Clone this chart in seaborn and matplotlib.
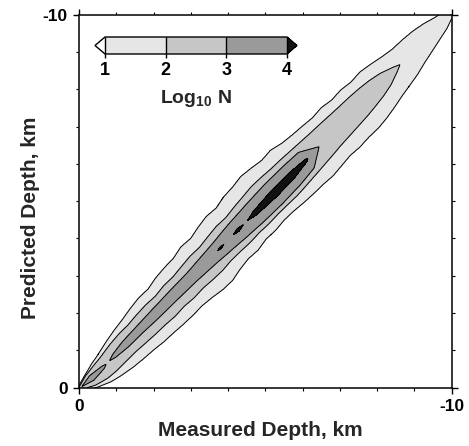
import numpy as np
import matplotlib
matplotlib.use("Agg")
import matplotlib.pyplot as plt
import seaborn as sns
from matplotlib.ticker import MultipleLocator

# ---------------- data ----------------
# stations along the 1:1 line (km depth) for the two innermost levels
S_IN = [0.0, 0.3, 0.6, 0.72, 0.9, 1.2, 1.6, 2.0, 2.5, 3.0, 3.5, 3.77, 4.0, 4.25,
        4.45, 4.7, 5.2, 5.7, 6.1, 6.45, 7.0, 7.8, 8.6, 9.2, 10.0]
# ridge centre offset (measured - predicted, km)
CENTER = [0.04, 0.08, 0.1, 0.1, 0.09, 0.08, 0.07, 0.07, 0.06, 0.06, 0.05, 0.05, 0.04,
          0.04, 0.04, 0.04, 0.03, 0.02, 0.0, -0.02, -0.03, -0.05, -0.05, -0.06, -0.08]
# half-widths (km) at which log10 N crosses 4 and 3 (negative = level not reached)
W_L4 = [-0.3, -0.3, -0.3, -0.3, -0.3, -0.3, -0.28, -0.25, -0.22, -0.18, -0.1, 0.04, -0.05,
        0.06, -0.02, 0.09, 0.15, 0.14, 0.05, -0.35, -0.45, -0.5, -0.5, -0.6, -0.6]
W_L3 = [-0.02, 0.12, 0.06, -0.03, 0.08, 0.15, 0.17, 0.2, 0.22, 0.24, 0.3, 0.34, 0.38,
        0.42, 0.44, 0.47, 0.5, 0.48, 0.42, 0.0, -0.2, -0.3, -0.4, -0.45, -0.5]
# stations for the level-2 and level-1 contours (left / right half-widths, km)
S_OUT = [0.0, 0.25, 0.5, 0.75, 1.0, 1.25, 1.5, 1.75, 2.0, 2.25, 2.5, 2.75, 3.0, 3.25,
         3.5, 3.75, 4.0, 4.25, 4.5, 4.75, 5.0, 5.25, 5.5, 5.75, 6.0, 6.25, 6.5, 6.75,
         7.0, 7.25, 7.5, 7.75, 8.0, 8.25, 8.5, 8.75, 9.0, 9.25, 9.5, 9.75, 10.0]
L2_LEFT = [0.05, 0.22, 0.3, 0.36, 0.42, 0.45, 0.44, 0.48, 0.5, 0.47, 0.52, 0.51, 0.56, 0.6,
           0.58, 0.64, 0.68, 0.66, 0.72, 0.76, 0.8, 0.78, 0.74, 0.72, 0.68, 0.64, 0.6, 0.58,
           0.55, 0.52, 0.5, 0.46, 0.4, 0.3, 0.12, -0.1, -0.2, -0.22, -0.25, -0.28, -0.3]
L2_RIGHT = [0.06, 0.3, 0.42, 0.46, 0.47, 0.48, 0.52, 0.55, 0.56, 0.6, 0.58, 0.62, 0.6, 0.64,
            0.66, 0.62, 0.64, 0.66, 0.64, 0.66, 0.65, 0.66, 0.68, 0.66, 0.64, 0.62, 0.6, 0.56,
            0.54, 0.52, 0.5, 0.46, 0.4, 0.3, 0.12, -0.1, -0.2, -0.22, -0.25, -0.28, -0.3]
L1_LEFT = [0.08, 0.25, 0.4, 0.5, 0.6, 0.68, 0.74, 0.82, 0.88, 0.86, 0.95, 0.99, 1.0, 1.1,
           1.06, 1.16, 1.22, 1.18, 1.28, 1.3, 1.36, 1.3, 1.22, 1.25, 1.12, 1.05, 1.0, 0.95,
           0.98, 0.9, 0.92, 0.85, 0.88, 0.8, 0.7, 0.62, 0.6, 0.55, 0.45, 0.3, 0.2]
L1_RIGHT = [0.1, 0.4, 0.6, 0.72, 0.82, 0.88, 0.92, 0.98, 1.0, 1.04, 1.06, 1.05, 1.1, 1.18,
            1.2, 1.1, 1.05, 1.08, 1.0, 1.02, 0.98, 1.0, 1.05, 1.08, 1.1, 1.15, 1.12, 1.08,
            1.12, 1.1, 1.12, 1.08, 1.0, 0.9, 0.82, 0.74, 0.62, 0.52, 0.42, 0.32, 0.15]

LEVELS = [1, 2, 3, 4]
FILL_COLORS = ["#ffffff", "#e6e6e6", "#c6c6c6", "#9a9a9a", "#121212"]
XLABEL = "Measured Depth, km"
YLABEL = "Predicted Depth, km"
TICKS = [0, -10]

# ---------------- build field ----------------
g = np.linspace(0, 10, 601)
M, P = np.meshgrid(g, g)
S = (M + P) / 2.0
U = M - P
c = np.interp(S, S_IN, CENTER)
right = U >= c
w1 = np.where(right, np.interp(S, S_OUT, L1_RIGHT), np.interp(S, S_OUT, L1_LEFT))
w2 = np.where(right, np.interp(S, S_OUT, L2_RIGHT), np.interp(S, S_OUT, L2_LEFT))
w2 = np.minimum(w2, w1 - 0.02)
w3 = np.minimum(np.interp(S, S_IN, W_L3), w2 - 0.02)
w4 = np.minimum(np.interp(S, S_IN, W_L4), w3 - 0.02)
d = np.abs(U - c)
tail = 0.15
Z = np.where(d <= w4, 4 + (w4 - d) / (w3 - w4),
    np.where(d <= w3, 3 + (w3 - d) / (w3 - w4),
    np.where(d <= w2, 2 + (w2 - d) / (w2 - w3),
    np.where(d <= w1, 1 + (w1 - d) / (w1 - w2),
             1 - (d - w1) / tail))))

# ---------------- plot ----------------
sns.set_theme(style="ticks")
plt.rcParams["font.family"] = ["Liberation Sans", "DejaVu Sans"]
plt.rcParams["font.weight"] = "bold"
plt.rcParams["axes.labelweight"] = "bold"
plt.rcParams["mathtext.fontset"] = "custom"
plt.rcParams["mathtext.rm"] = "Liberation Sans:bold"
plt.rcParams["mathtext.bf"] = "Liberation Sans:bold"
plt.rcParams["mathtext.it"] = "Liberation Sans:bold"
plt.rcParams["text.color"] = "black"
plt.rcParams["axes.edgecolor"] = "black"
plt.rcParams["xtick.color"] = "black"
plt.rcParams["ytick.color"] = "black"

fig = plt.figure(figsize=(4.69, 4.46), dpi=100)
ax = fig.add_axes([79 / 469, 1 - 387.7 / 446, 372.7 / 469, 373 / 446])

cf = ax.contourf(-M, -P, Z, levels=LEVELS, colors=FILL_COLORS, extend="both")
ax.contour(-M, -P, Z, levels=LEVELS, colors="black", linewidths=0.7)

ax.set_xlim(0, -10)
ax.set_ylim(0, -10)
ax.set_xticks(TICKS)
ax.set_yticks(TICKS)
ax.set_xticklabels([str(t) for t in TICKS])
ax.set_yticklabels([str(t) for t in TICKS])
ax.xaxis.set_minor_locator(MultipleLocator(1))
ax.yaxis.set_minor_locator(MultipleLocator(1))
ax.tick_params(which="major", direction="out", length=4, width=1.0,
               top=True, right=True, labelsize=12.5, pad=4)
ax.tick_params(which="minor", direction="out", length=2, width=0.8,
               top=True, right=True)
for sp in ax.spines.values():
    sp.set_linewidth(1.1)
    sp.set_color("black")
ax.set_xlabel(XLABEL, fontsize=15, labelpad=5, x=0.486)
ax.set_ylabel(YLABEL, fontsize=15, labelpad=2, y=0.455)

# colorbar inset
cax = fig.add_axes([95 / 469, 1 - 54 / 446, 202 / 469, 17 / 446])
cb = fig.colorbar(cf, cax=cax, orientation="horizontal", extendfrac=0.055,
                  ticks=LEVELS, drawedges=True)
cb.outline.set_linewidth(1.0)
cb.dividers.set_linewidth(1.0)
cax.tick_params(direction="out", length=3, width=1.0, labelsize=13, pad=3)
cb.set_label(r"Log$_{10}$ N", fontsize=14, labelpad=6)

fig.savefig("out.png", dpi=100)
